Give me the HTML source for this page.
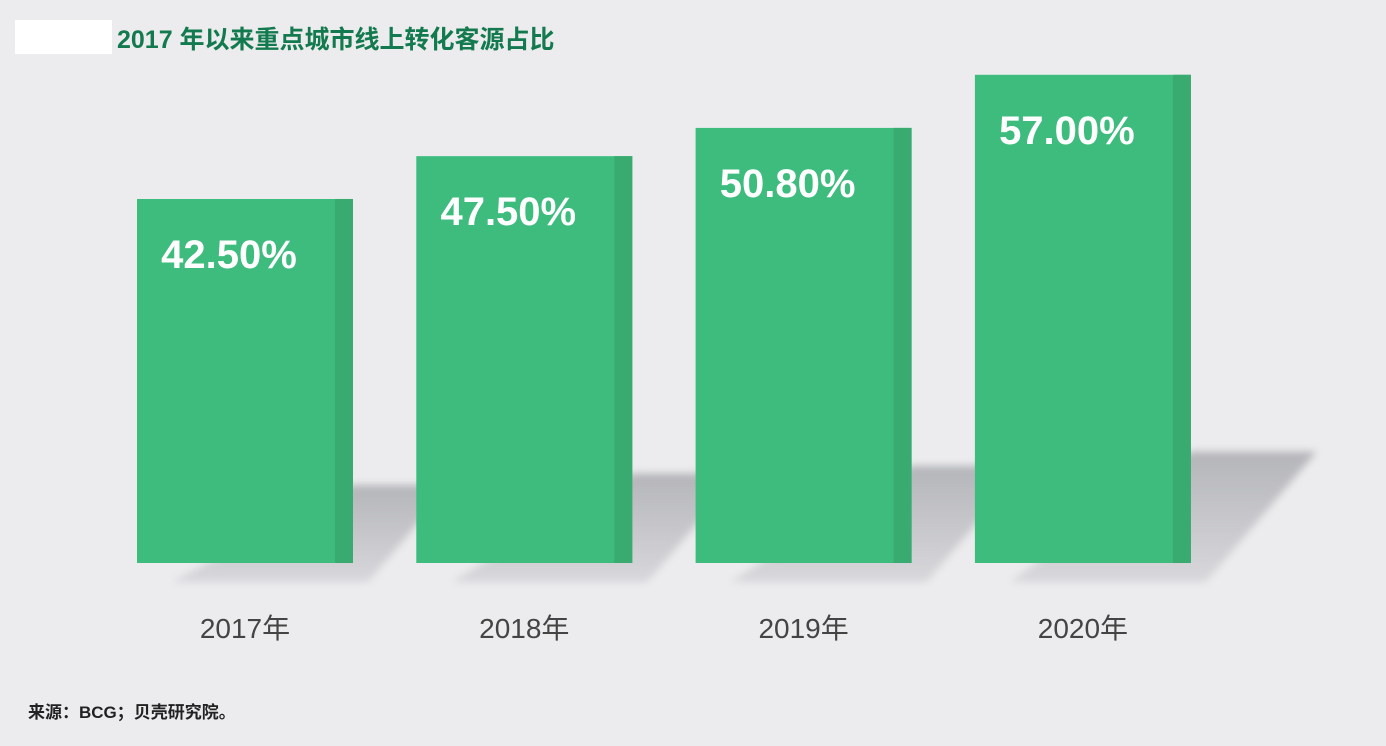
<!DOCTYPE html>
<html><head><meta charset="utf-8"><style>
body{margin:0;width:1386px;height:746px;background:#ececee;font-family:"Liberation Sans","Noto Sans CJK SC",sans-serif;overflow:hidden;position:relative}
#title{position:absolute;left:117px;top:20px;font-size:25px;font-weight:bold;color:#137a4f;font-family:"Liberation Sans","Noto Sans CJK SC",sans-serif}
#mask{position:absolute;left:15px;top:20px;width:97px;height:34px;background:#fff}
#src{position:absolute;left:28px;top:698px;font-size:17px;font-weight:bold;color:#222}
</style></head><body>
<div id="mask"></div>
<div id="title">2017 年以来重点城市线上转化客源占比</div>
<svg id="chart" width="1386" height="746" style="position:absolute;left:0;top:0">
<defs>
<linearGradient id="sg" x1="0" y1="0" x2="0" y2="1"><stop offset="0" stop-color="#b4b5b9"/><stop offset="1" stop-color="#d8d8dc"/></linearGradient>
<filter id="bl"><feGaussianBlur stdDeviation="4"/></filter>
</defs>
</svg>
<div id="src">来源：BCG；贝壳研究院。</div>
<script>
const categories=["2017年","2018年","2019年","2020年"];
const values=[42.5,47.5,50.8,57.0];
const labels=["42.50%","47.50%","50.80%","57.00%"];
const svg=document.getElementById('chart');
const NS='http://www.w3.org/2000/svg';
const base=563, scale=8.565, x0=137, step=279.3, bw=216;
const yS=v=>base-v*scale;
function mk(t,a){const e=document.createElementNS(NS,t);for(const k in a)e.setAttribute(k,a[k]);svg.appendChild(e);return e;}
values.forEach((v,i)=>{
  const L=x0+i*step, R=L+bw, top=yS(v);
  const st=485-(v-42.5)*2.3;
  const s=mk('polygon',{points:`${L+35},582 ${R+15},582 ${R+15+0.85*(582-st)},${st} ${R},${st}`,fill:'url(#sg)',filter:'url(#bl)'});
  
  
  const b=mk('rect',{x:L,y:top,width:bw,height:base-top,fill:'#3dbc7e'});
  
  
  const e=mk('rect',{x:R-18,y:top,width:18,height:base-top,fill:'#39aa70'});
  
  
  const t=mk('text',{x:L+92,y:top+69,'text-anchor':'middle','font-size':40,'font-weight':'bold',fill:'#fff','font-family':'Liberation Sans, sans-serif'});
  t.textContent=labels[i];
  
  
  const c=mk('text',{x:L+108,y:638,'text-anchor':'middle','font-size':28,fill:'#444','font-family':'Liberation Sans, Noto Sans CJK SC, sans-serif'});
  c.textContent=categories[i];
  
  
});
</script>
</body></html>
